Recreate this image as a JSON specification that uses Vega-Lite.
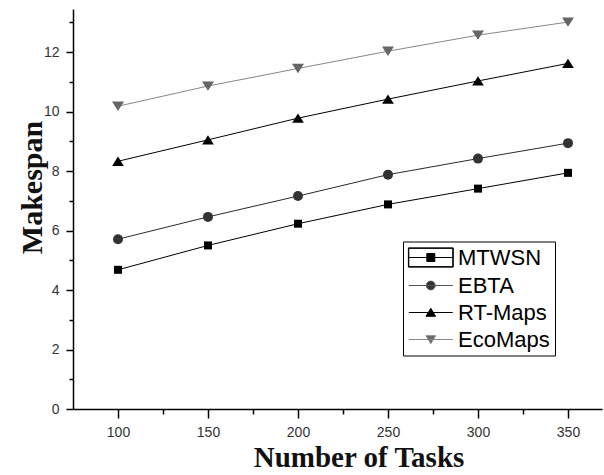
{
  "$schema": "https://vega.github.io/schema/vega-lite/v6.json",
  "width": 529,
  "height": 400,
  "autosize": "none",
  "padding": {"left": 73, "top": 9, "right": 2, "bottom": 66},
  "background": "white",
  "config": {
    "view": {"stroke": null},
    "axis": {"grid": false},
    "legend": {
      "orient": "none", "legendX": 330, "legendY": 232.5,
      "direction": "vertical",
      "strokeColor": "#000", "fillColor": "#ffffff", "padding": 5,
      "symbolSize": 64, "symbolStrokeWidth": 1, "symbolOpacity": 1,
      "symbolOffset": 11.8, "labelOffset": 16.2,
      "labelFont": "Liberation Sans", "labelFontSize": 22, "labelColor": "#000",
      "rowPadding": 5
    }
  },
  "data": {
    "values": [
      {"series": "MTWSN", "tasks": 100, "makespan": 4.68},
      {"series": "MTWSN", "tasks": 150, "makespan": 5.50},
      {"series": "MTWSN", "tasks": 200, "makespan": 6.23},
      {"series": "MTWSN", "tasks": 250, "makespan": 6.88},
      {"series": "MTWSN", "tasks": 300, "makespan": 7.41},
      {"series": "MTWSN", "tasks": 350, "makespan": 7.94},
      {"series": "EBTA", "tasks": 100, "makespan": 5.71},
      {"series": "EBTA", "tasks": 150, "makespan": 6.46},
      {"series": "EBTA", "tasks": 200, "makespan": 7.16},
      {"series": "EBTA", "tasks": 250, "makespan": 7.88},
      {"series": "EBTA", "tasks": 300, "makespan": 8.42},
      {"series": "EBTA", "tasks": 350, "makespan": 8.94},
      {"series": "RT-Maps", "tasks": 100, "makespan": 8.33},
      {"series": "RT-Maps", "tasks": 150, "makespan": 9.05},
      {"series": "RT-Maps", "tasks": 200, "makespan": 9.78},
      {"series": "RT-Maps", "tasks": 250, "makespan": 10.42},
      {"series": "RT-Maps", "tasks": 300, "makespan": 11.03},
      {"series": "RT-Maps", "tasks": 350, "makespan": 11.62},
      {"series": "EcoMaps", "tasks": 100, "makespan": 10.18},
      {"series": "EcoMaps", "tasks": 150, "makespan": 10.86},
      {"series": "EcoMaps", "tasks": 200, "makespan": 11.45},
      {"series": "EcoMaps", "tasks": 250, "makespan": 12.03},
      {"series": "EcoMaps", "tasks": 300, "makespan": 12.57},
      {"series": "EcoMaps", "tasks": 350, "makespan": 13.01}
    ]
  },
  "resolve": {
    "axis": {"x": "independent", "y": "independent"}
  },
  "layer": [
    {
      "mark": {"type": "line", "strokeWidth": 1},
      "encoding": {
        "x": {
          "field": "tasks", "type": "quantitative",
          "scale": {"domain": [75, 368.9], "nice": false, "zero": false},
          "axis": {
            "orient": "bottom",
            "values": [100, 150, 200, 250, 300, 350],
            "tickSize": 9, "tickWidth": 1.5, "tickColor": "#000",
            "domainColor": "#000", "domainWidth": 1.5,
            "labelFont": "Liberation Sans", "labelFontSize": 14, "labelColor": "#333",
            "labelPadding": 7,
            "title": "Number of Tasks",
            "titleFont": "Liberation Serif", "titleFontSize": 29, "titleFontWeight": "bold",
            "titleColor": "#111",
            "titleX": 285.5, "titleY": 57.5, "titleAlign": "center", "titleBaseline": "alphabetic"
          }
        },
        "y": {
          "field": "makespan", "type": "quantitative",
          "scale": {"domain": [0, 13.45], "nice": false},
          "axis": {
            "orient": "left",
            "values": [0, 2, 4, 6, 8, 10, 12],
            "tickSize": 7, "tickWidth": 1.5, "tickColor": "#000",
            "domainColor": "#000", "domainWidth": 1.5,
            "labelFont": "Liberation Sans", "labelFontSize": 14, "labelColor": "#333",
            "labelPadding": 7,
            "title": "Makespan",
            "titleFont": "Liberation Serif", "titleFontSize": 30, "titleFontWeight": "bold",
            "titleColor": "#111",
            "titleAngle": -90,
            "titleX": -32, "titleY": 178, "titleAlign": "center", "titleBaseline": "alphabetic"
          }
        },
        "detail": {"field": "series", "type": "nominal"},
        "stroke": {
          "condition": [
            {"test": "datum.series === 'EBTA'", "value": "#2a2a2a"},
            {"test": "datum.series === 'EcoMaps'", "value": "#888888"}
          ],
          "value": "#000000"
        }
      }
    },
    {
      "mark": {"type": "point", "filled": true, "opacity": 1, "strokeWidth": 0, "size": 100},
      "encoding": {
        "x": {
          "field": "tasks", "type": "quantitative",
          "scale": {"domain": [75, 368.9], "nice": false, "zero": false},
          "axis": {
            "orient": "bottom",
            "values": [125, 175, 225, 275, 325],
            "tickSize": 5, "tickWidth": 1.5, "tickColor": "#000",
            "domain": false, "labels": false, "title": null
          }
        },
        "y": {
          "field": "makespan", "type": "quantitative",
          "scale": {"domain": [0, 13.45], "nice": false},
          "axis": {
            "orient": "left",
            "values": [1, 3, 5, 7, 9, 11, 13],
            "tickSize": 4, "tickWidth": 1.5, "tickColor": "#000",
            "domain": false, "labels": false, "title": null
          }
        },
        "fill": {
          "condition": [
            {"test": "datum.series === 'EBTA'", "value": "#333333"},
            {"test": "datum.series === 'EcoMaps'", "value": "#666666"}
          ],
          "value": "#000000"
        },
        "shape": {
          "condition": [
            {"test": "datum.series === 'MTWSN'", "value": "M-0.8,-0.8H0.8V0.8H-0.8Z"},
            {"test": "datum.series === 'EBTA'", "value": "circle"},
            {"test": "datum.series === 'RT-Maps'", "value": "M0,-0.93L1.17,0.93L-1.17,0.93Z"}
          ],
          "value": "M-1.2,-0.93H1.2L0,0.93Z"
        }
      }
    },
    {
      "transform": [{"filter": "false"}],
      "mark": {"type": "point", "filled": true, "strokeWidth": 1},
      "encoding": {
        "shape": {
          "field": "series", "type": "nominal", "title": null,
          "scale": {
            "domain": ["MTWSN", "EBTA", "RT-Maps", "EcoMaps"],
            "range": [
              "M-5.6,-2.4H5.6V2.4H-5.6Z M-5.5,-2.3V2.3H5.5V-2.3Z M-5.5,0H5.5 M-1,-1H1V1H-1Z",
              "M-5.5,0H5.5 M-1.1,0A1.1,1.1 0 1,1 1.1,0A1.1,1.1 0 1,1 -1.1,0Z",
              "M-5.5,0H5.5 M0,-1.05L1.2,0.95L-1.2,0.95Z",
              "M-5.5,0H5.5 M-1.2,-0.95H1.2L0,1.05Z"
            ]
          }
        },
        "fill": {
          "field": "series", "type": "nominal", "title": null,
          "scale": {"domain": ["MTWSN", "EBTA", "RT-Maps", "EcoMaps"], "range": ["#000000", "#333333", "#000000", "#666666"]}
        },
        "stroke": {
          "field": "series", "type": "nominal", "title": null,
          "scale": {"domain": ["MTWSN", "EBTA", "RT-Maps", "EcoMaps"], "range": ["#000000", "#555555", "#000000", "#888888"]}
        }
      }
    }
  ]
}
